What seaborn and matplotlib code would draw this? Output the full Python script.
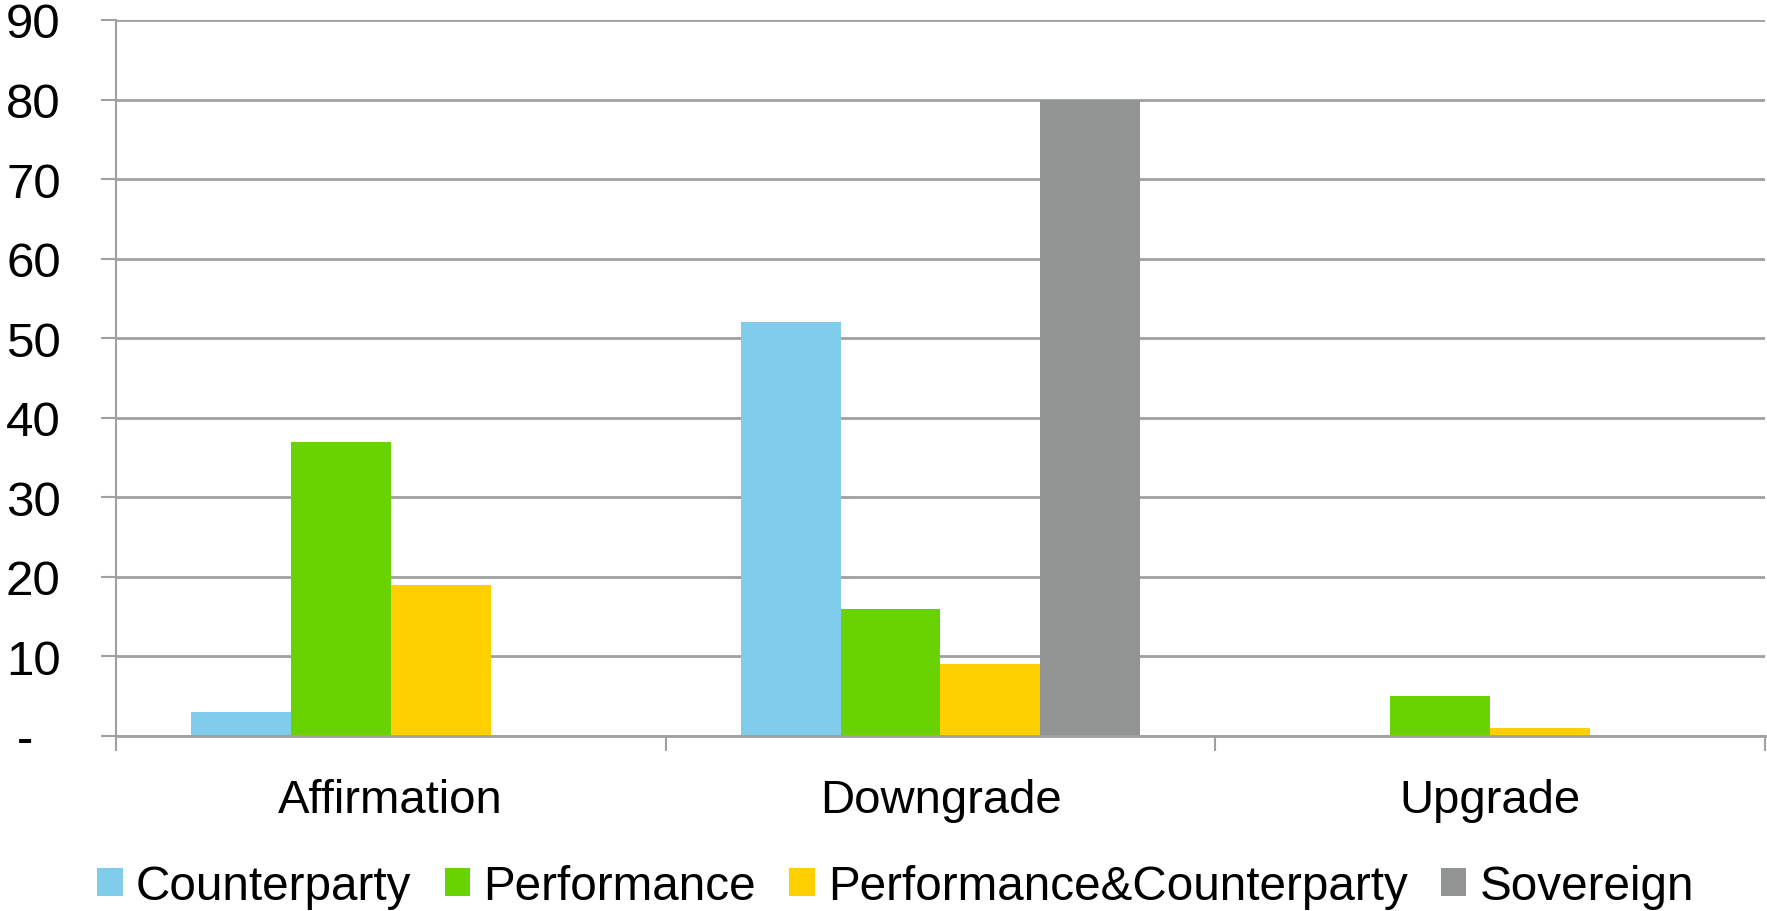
import matplotlib
matplotlib.use("Agg")
import matplotlib.pyplot as plt
import seaborn as sns
import pandas as pd
from matplotlib.ticker import FixedLocator, FuncFormatter
from matplotlib.patches import Patch

# Rating actions by type and driver
categories = ["Affirmation", "Downgrade", "Upgrade"]
series = ["Counterparty", "Performance", "Performance&Counterparty", "Sovereign"]
counterparty = [3, 52, 0]
performance = [37, 16, 5]
perf_counterparty = [19, 9, 1]
sovereign = [0, 80, 0]
y_ticks = [0, 10, 20, 30, 40, 50, 60, 70, 80, 90]

colors = ["#7FCDEB", "#68D300", "#FFCF00", "#929393"]
grid_color = "#A0A0A0"

rows = []
for name, vals in zip(series, [counterparty, performance, perf_counterparty, sovereign]):
    for cat, v in zip(categories, vals):
        rows.append({"category": cat, "series": name, "value": v})
df = pd.DataFrame(rows)

sns.set_style("white")
plt.rcParams["font.family"] = ["Liberation Sans", "DejaVu Sans"]
plt.rcParams["text.color"] = "black"
plt.rcParams["xtick.labelcolor"] = "black"
plt.rcParams["ytick.labelcolor"] = "black"

fig = plt.figure(figsize=(17.67, 9.12), dpi=100)
ax = fig.add_axes([0.0656, 0.1919, 0.9333, 0.7851])

sns.barplot(data=df, x="category", y="value", hue="series", order=categories,
            hue_order=series, palette=colors, width=0.726, gap=0,
            saturation=1, linewidth=0, edgecolor="none", ax=ax, legend=False)

ax.set_xlim(-0.5, 2.5)
ax.set_ylim(0, 90)
ax.set_xlabel("")
ax.set_ylabel("")

# horizontal gridlines; zero shown as an accounting-style dash
ax.yaxis.set_major_locator(FixedLocator(y_ticks))
ax.yaxis.set_major_formatter(FuncFormatter(lambda v, p: "-  " if v == 0 else f"{int(v)}"))
ax.grid(axis="y", color=grid_color, linewidth=2)
ax.set_axisbelow(True)
ax.tick_params(axis="y", which="major", length=10.8, width=1.5, color=grid_color,
               labelsize=35.5, pad=29, left=True, labelcolor="black")

# category separators below the axis
ax.set_xticks([0, 1, 2])
ax.set_xticks([-0.5, 0.5, 1.5, 2.5], minor=True)
ax.tick_params(axis="x", which="major", length=0, labelsize=34, pad=30, labelcolor="black")
ax.tick_params(axis="x", which="minor", length=10.8, width=1.5, color=grid_color, bottom=True)

for side in ["top", "right"]:
    ax.spines[side].set_visible(False)
ax.spines["left"].set_color(grid_color)
ax.spines["left"].set_linewidth(1.5)
ax.spines["bottom"].set_color(grid_color)
ax.spines["bottom"].set_linewidth(2)

handles = [Patch(facecolor=c, edgecolor="none", label=s) for c, s in zip(colors, series)]
fig.legend(handles=handles, loc="center", bbox_to_anchor=(0.507, 0.027), ncol=4,
           frameon=False, fontsize=34.3, handlelength=0.53, handleheight=0.53,
           handletextpad=0.28, columnspacing=0.7, borderaxespad=0, borderpad=0,
           labelcolor="black")

fig.savefig("out.png", dpi=100, facecolor="white")
